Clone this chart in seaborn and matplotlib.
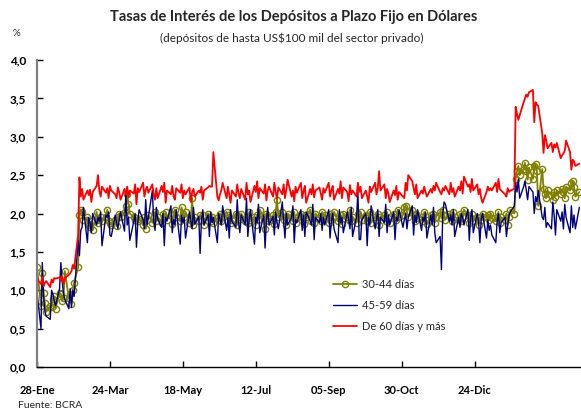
import pandas as pd
import matplotlib
matplotlib.use("Agg")
import matplotlib.pyplot as plt
import seaborn as sns

# daily (business day) series starting 28-Ene
inicio = "2005-01-28"

tasa_30_44 = [
    1.30, 0.79,
    1.22, 0.96, 0.83, 0.72, 0.80, 0.78, 0.88, 0.92, 0.76, 0.96, 0.95, 0.86, 0.90, 1.25, 0.90, 0.95, 0.82, 1.00, 1.10, 1.30,
    1.98, 2.05, 2.02, 1.92, 1.95, 1.85, 1.82, 1.90, 1.78, 2.02, 1.88, 1.92, 1.95, 1.90, 1.96, 2.05, 1.90, 1.88, 1.85, 1.92, 1.84, 1.95, 2.00,
    1.95, 2.02, 2.10, 2.25, 2.12, 2.00, 1.95, 1.92, 1.94, 1.90, 1.93, 1.85, 1.95, 1.80, 1.92, 1.98, 1.88, 1.95, 2.02, 1.90, 1.96,
    1.88, 2.00, 1.95, 2.02, 1.92, 1.98, 1.86, 2.00, 2.05, 1.95, 1.90, 2.08, 2.00, 1.95, 2.02, 1.88, 1.92, 2.20, 1.85, 1.95, 1.90, 1.98,
    1.92, 1.98, 1.85, 2.00, 1.95, 1.90, 1.96, 1.88, 1.94, 1.92, 2.00, 1.90, 1.95, 2.02, 1.98, 1.95, 1.88, 1.92, 2.00, 1.85, 1.95, 1.93,
    2.00, 1.90, 1.95, 1.88, 2.02, 1.92, 1.96, 1.85, 1.98, 1.92, 2.05, 1.95, 1.80, 2.00, 1.94, 1.90, 1.98, 1.86, 2.02, 2.18, 1.95,
    2.02, 1.92, 1.96, 1.85, 2.00, 1.95, 1.90, 2.02, 1.88, 1.94, 2.00, 1.92, 1.86, 1.98, 1.95, 2.05, 1.90, 1.96, 1.88, 2.00, 1.94, 1.90, 2.02,
    1.95, 1.98, 1.88, 2.00, 1.92, 1.96, 2.02, 1.90, 1.94, 1.98, 1.86, 2.00, 1.95, 1.92, 2.05, 1.90, 1.96, 1.88, 2.00, 1.94, 2.02, 1.92,
    1.98, 1.90, 1.95, 2.02, 1.88, 1.96, 1.92, 2.00, 1.85, 1.95, 1.98, 1.90, 2.02, 1.94, 1.88, 2.00, 1.96, 1.92, 2.05, 1.95, 1.98,
    2.08, 2.10, 2.02, 1.95, 2.05, 1.98, 1.90, 2.00, 1.94, 1.96, 1.90, 2.02, 1.92, 1.86, 1.98, 1.95, 2.00, 1.88, 1.96, 2.02, 1.94, 2.05,
    1.98, 1.92, 2.00, 1.95, 1.90, 2.02, 1.96, 1.92, 2.00, 1.90, 1.95, 2.05, 1.98, 1.88, 1.94, 2.00, 1.90, 1.96, 1.85, 1.95, 1.92, 2.00,
    1.95, 1.98, 1.92, 2.00, 1.94, 1.90, 1.96, 2.02, 1.88, 1.95, 1.92, 2.00, 1.85, 1.95, 2.05, 2.00, 2.45, 2.55, 2.62, 2.50, 2.58, 2.66,
    2.55, 2.44, 2.60, 2.45, 2.62, 2.64, 2.55, 2.10, 2.58, 2.32, 2.25, 2.20, 2.30, 2.24, 2.18, 2.28, 2.22, 2.30, 2.26, 2.32,
    2.28, 2.20, 2.35, 2.30, 2.40, 2.42, 2.35, 2.22, 2.28,
]

tasa_45_59 = [
    0.98, 0.50,
    1.36, 0.90, 0.72, 0.66, 0.62, 1.00, 0.95, 0.86, 0.80, 1.02, 1.36, 1.12, 0.95, 0.88, 0.76, 1.02, 0.78, 1.00, 0.92, 1.65,
    1.45, 1.78, 1.82, 2.08, 1.62, 1.95, 1.88, 1.75, 2.00, 1.85, 1.95, 1.90, 2.02, 1.58, 1.98, 1.95, 2.02, 1.72, 1.70, 1.98, 1.88, 1.80, 1.92,
    2.02, 1.77, 2.26, 1.85, 1.95, 1.65, 1.90, 2.00, 1.56, 1.88, 2.05, 1.92, 1.80, 2.18, 1.85, 1.95, 2.30, 1.90, 1.78, 2.08, 1.93,
    1.82, 2.00, 1.58, 1.95, 1.90, 2.10, 1.75, 1.92, 1.85, 2.05, 1.60, 1.98, 1.88, 1.95, 1.68, 2.02, 1.90, 1.80, 2.08, 1.86, 1.96, 1.48,
    1.90, 2.05, 1.85, 1.98, 1.70, 2.02, 1.88, 1.95, 1.62, 2.00, 1.92, 1.85, 2.10, 1.78, 1.95, 1.68, 2.05, 1.90, 1.82, 2.18, 1.88, 1.75,
    1.98, 1.85, 2.20, 1.70, 1.92, 2.05, 1.60, 1.95, 1.88, 2.12, 1.75, 1.98, 1.55, 1.90, 2.08, 1.85, 1.96, 1.72, 2.02, 1.88, 1.80,
    2.15, 1.90, 1.68, 2.00, 1.85, 1.95, 2.10, 1.62, 1.92, 1.88, 2.05, 1.78, 1.98, 1.70, 2.02, 1.90, 1.85, 2.12, 1.66, 1.95, 1.88, 2.00, 1.78,
    1.95, 1.85, 2.05, 1.68, 1.90, 2.00, 1.80, 1.62, 2.05, 1.88, 1.95, 1.75, 2.02, 1.92, 1.80, 2.08, 1.70, 1.96, 2.28, 1.66, 1.66, 1.92,
    2.00, 1.58, 1.95, 1.85, 2.10, 1.80, 1.92, 2.05, 1.70, 1.95, 1.88, 2.12, 1.75, 1.98, 1.85, 2.02, 1.66, 1.95, 1.90, 2.05, 1.82,
    1.92, 2.00, 1.80, 1.95, 2.10, 1.72, 1.98, 1.88, 2.05, 1.78, 1.95, 1.90, 2.02, 1.68, 1.98, 1.85, 2.08, 1.75, 1.62, 1.70, 1.27, 2.00,
    2.15, 2.12, 1.90, 1.98, 1.85, 2.05, 1.70, 1.95, 1.82, 2.00, 1.95, 1.85, 2.05, 1.65, 1.95, 2.05, 1.75, 2.00, 1.90, 1.62, 1.92, 2.00,
    1.68, 1.92, 1.78, 1.85, 1.72, 1.62, 1.90, 2.00, 1.75, 1.88, 1.95, 1.70, 1.85, 1.98, 2.02, 2.10, 2.40, 2.28, 2.45, 2.20, 2.35, 2.42,
    2.30, 2.18, 2.35, 2.28, 2.00, 2.22, 2.15, 2.30, 1.95, 1.92, 2.08, 1.82, 1.88, 1.80, 2.15, 1.98, 1.72, 2.05, 1.90, 2.02,
    1.80, 2.12, 1.95, 1.75, 2.10, 1.82, 1.98, 1.80, 2.08,
]

tasa_60_mas = [
    1.15, 1.08,
    1.18, 1.05, 1.10, 1.12, 1.04, 1.14, 1.10, 1.16, 1.15, 1.17, 1.12, 1.18, 1.08, 1.16, 1.20, 1.22, 1.25, 1.33, 1.28, 1.72,
    2.47, 2.22, 2.32, 2.18, 2.30, 2.24, 2.31, 2.15, 2.28, 2.36, 2.50, 2.30, 2.22, 2.35, 2.27, 2.33, 2.20, 2.36, 2.30, 2.25, 2.20, 2.34, 2.28,
    2.18, 2.32, 2.25, 2.35, 2.21, 2.30, 2.26, 2.38, 2.12, 2.33, 2.28, 2.40, 2.22, 2.31, 2.35, 2.27, 2.38, 2.25, 2.18, 2.33, 2.20,
    2.36, 2.28, 2.40, 2.14, 2.30, 2.25, 2.36, 2.22, 2.18, 2.33, 2.27, 2.38, 2.20, 2.30, 2.25, 2.34, 2.15, 2.28, 2.32, 2.22, 2.30, 2.27,
    2.35, 2.18, 2.30, 2.34, 2.36, 2.35, 2.35, 2.80, 2.22, 2.17, 2.25, 2.30, 2.40, 2.20, 2.35, 2.24, 2.14, 2.30, 2.22, 2.38, 2.26, 2.20,
    2.32, 2.18, 2.40, 2.25, 2.30, 2.15, 2.36, 2.28, 2.42, 2.20, 2.33, 2.26, 2.38, 2.17, 2.30, 2.35, 2.22, 2.40, 2.28, 2.19, 2.34,
    2.25, 2.38, 2.20, 2.31, 2.44, 2.22, 2.30, 2.16, 2.35, 2.27, 2.40, 2.20, 2.29, 2.36, 2.14, 2.32, 2.25, 2.38, 2.21, 2.30, 2.34, 2.26, 2.18,
    2.33, 2.27, 2.40, 2.22, 2.30, 2.36, 2.18, 2.32, 2.26, 2.42, 2.20, 2.34, 2.28, 2.16, 2.37, 2.25, 2.30, 2.22, 2.40, 2.28, 2.35, 2.20,
    2.30, 2.22, 2.14, 2.35, 2.28, 2.40, 2.25, 2.33, 2.55, 2.30, 2.38, 2.20, 2.32, 2.26, 2.15, 2.30, 2.24, 2.36, 2.18, 2.28, 2.22,
    2.20, 2.40, 2.30, 2.50, 2.42, 2.33, 2.25, 2.38, 2.20, 2.30, 2.26, 2.35, 2.28, 2.22, 2.32, 2.27, 2.36, 2.30, 2.40, 2.28, 2.25, 2.33,
    2.30, 2.36, 2.25, 2.40, 2.28, 2.33, 2.22, 2.35, 2.30, 2.42, 2.26, 2.48, 2.35, 2.38, 2.28, 2.45, 2.30, 2.38, 2.25, 2.32, 2.20, 2.14,
    2.28, 2.35, 2.30, 2.33, 2.30, 2.40, 2.28, 2.45, 2.32, 2.30, 2.25, 2.22, 2.33, 2.28, 2.30, 2.32, 3.39, 3.30, 3.22, 3.28, 3.45, 3.50,
    3.55, 3.52, 3.58, 3.61, 3.19, 3.45, 3.42, 3.40, 3.05, 2.79, 3.02, 2.96, 2.85, 2.92, 2.80, 2.90, 2.86, 2.92, 2.72, 2.76,
    2.78, 2.82, 2.95, 2.80, 2.57, 2.70, 2.68, 2.62, 2.65,
]

nombres = ["30-44 días", "45-59 días", "De 60 días y más"]
colores = ["#808000", "#000080", "#ff0000"]

tick_fechas = ["2005-01-28", "2005-03-24", "2005-05-18", "2005-07-12",
               "2005-09-05", "2005-10-30", "2005-12-24"]
tick_labels = ["28-Ene", "24-Mar", "18-May", "12-Jul", "05-Sep", "30-Oct", "24-Dic"]
y_ticks = [0.0, 0.5, 1.0, 1.5, 2.0, 2.5, 3.0, 3.5, 4.0]

sns.set_theme(style="white")
plt.rcParams["font.family"] = ["Lato", "DejaVu Sans"]

fig = plt.figure(figsize=(5.81, 4.12), dpi=100)
ax = fig.add_axes([37 / 581, 45 / 412, 543 / 581, 307 / 412])

# olive series with hollow circles
fechas = pd.bdate_range(inicio, periods=len(tasa_30_44))
sns.lineplot(x=fechas, y=tasa_30_44, ax=ax, color=colores[0], linewidth=1.3,
             marker="o", markersize=4.5, markerfacecolor="none",
             markeredgecolor=colores[0], markeredgewidth=1.0, label=nombres[0])

fechas = pd.bdate_range(inicio, periods=len(tasa_45_59))
sns.lineplot(x=fechas, y=tasa_45_59, ax=ax, color=colores[1], linewidth=1.0,
             label=nombres[1])

fechas = pd.bdate_range(inicio, periods=len(tasa_60_mas))
sns.lineplot(x=fechas, y=tasa_60_mas, ax=ax, color=colores[2], linewidth=1.3,
             label=nombres[2])

ax.set_xlim(pd.Timestamp("2005-01-28"), pd.Timestamp("2006-03-13 12:00"))
ax.set_ylim(0, 4.0)
ax.set_yticks(y_ticks)
ax.set_yticklabels([f"{v:.1f}".replace(".", ",") for v in y_ticks],
                   fontsize=8.5, fontweight="bold")
ax.set_xticks(pd.to_datetime(tick_fechas))
ax.set_xticklabels(tick_labels, fontsize=8, fontweight="bold")
ax.tick_params(axis="x", bottom=True, direction="in", length=4, width=1,
               pad=13, colors="black")
ax.tick_params(axis="y", left=True, direction="in", length=4, width=1,
               pad=8, colors="black")
ax.set_xlabel("")
ax.set_ylabel("")

sns.despine(ax=ax)
ax.spines["left"].set_color("#808080")
ax.spines["left"].set_linewidth(1.6)
ax.spines["bottom"].set_color("black")
ax.spines["bottom"].set_linewidth(1.0)
ax.grid(False)

ax.legend(loc="upper left", bbox_to_anchor=(0.545, 0.287), frameon=False,
          fontsize=8, handlelength=2.2, handletextpad=0.4, labelspacing=0.9,
          borderpad=0, borderaxespad=0)

fig.text(0.505, 1 - 17 / 412, "Tasas de Interés de los Depósitos a Plazo Fijo en Dólares",
         ha="center", va="center", fontsize=10.5, fontweight="bold")
fig.text(0.503, 1 - 38 / 412, "(depósitos de hasta US$100 mil del sector privado)",
         ha="center", va="center", fontsize=8.5)
fig.text(13 / 581, 1 - 33 / 412, "%", ha="left", va="center", fontsize=7)
fig.text(18 / 581, 1 - 405 / 412, "Fuente: BCRA", ha="left", va="center", fontsize=7.5)

fig.savefig("out.png", dpi=100)
